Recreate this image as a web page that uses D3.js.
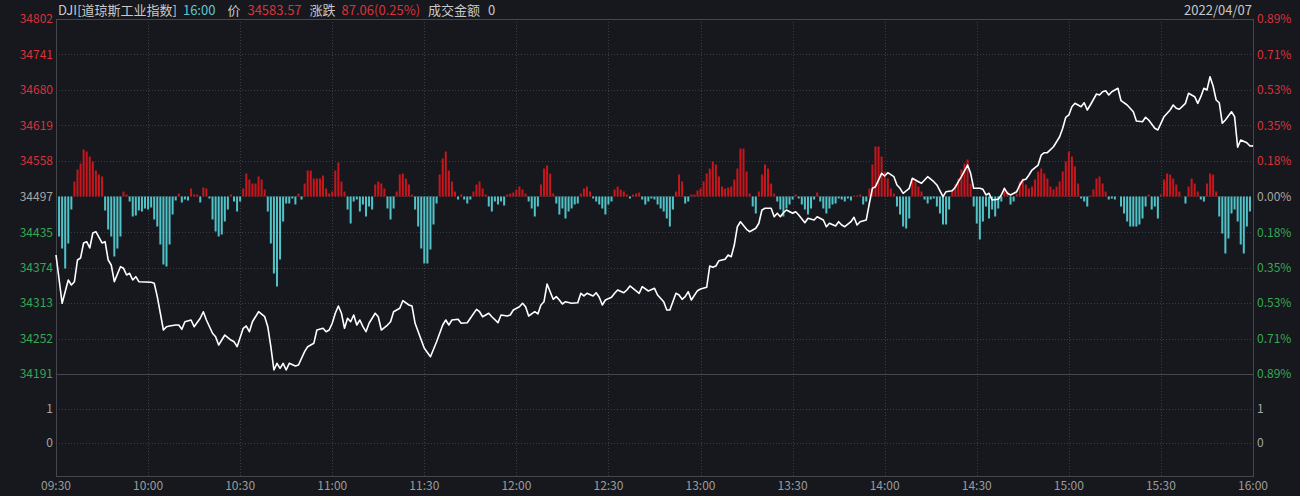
<!DOCTYPE html>
<html><head><meta charset="utf-8">
<script src="https://cdn.jsdelivr.net/npm/d3@7/dist/d3.min.js"></script>
<style>html,body{margin:0;padding:0;background:#16181d;}svg{display:block;}</style>
</head><body><svg id="c" width="1300" height="496"></svg>
<script>
// ---------- data ----------
const prevClose = 34496.51;
const priceTicks = [34802,34741,34680,34619,34558,34497,34435,34374,34313,34252,34191];
const pctTicks = ["0.89%","0.71%","0.53%","0.35%","0.18%","0.00%","0.18%","0.35%","0.53%","0.71%","0.89%"];
const volTicks = [1,0];
const timeTicks = ["09:30","10:00","10:30","11:00","11:30","12:00","12:30","13:00","13:30","14:00","14:30","15:00","15:30","16:00"];
const headerParts = [
  {t:"DJI[道琼斯工业指数]", c:"#c9c9c9"},
  {t:"16:00", c:"#62c6cf"},
  {t:"价", c:"#c9c9c9"},
  {t:"34583.57", c:"#d8333b"},
  {t:"涨跌", c:"#c9c9c9"},
  {t:"87.06(0.25%)", c:"#d8333b"},
  {t:"成交金额", c:"#c9c9c9"},
  {t:"0", c:"#c9c9c9"}
];
const dateLabel = "2022/04/07";

// price line: minute offset from 09:30 and price
const lineMin = [0,2,4,5,6,7,8,9,10,11,12,13,15,16,17,18,19,21,22,23,24,25,26,27,31,32,33,35,36,37,39,40,41,42,44,45,47,48,49,51,52,53,55,57,58,59,61,62,63,64,66,68,69,70,71,72,73,74,75,76,78,79,81,82,84,85,87,88,89,90,91,92,93,94,95,96,97,98,99,100,101,102,104,105,106,108,109,110,112,113,115,116,117,119,120,122,124,126,127,128,129,131,132,134,135,137,138,139,141,142,144,145,147,148,149,151,152,153,154,156,157,158,159,160,161,162,163,164,165,166,168,170,171,172,173,175,176,177,178,179,181,182,183,185,186,187,188,190,191,193,195,196,198,199,200,202,203,204,205,206,207,209,210,212,213,214,215,216,218,219,220,221,222,223,225,226,228,229,230,231,233,234,235,236,237,238,240,241,242,244,245,247,248,250,251,252,254,255,256,257,259,260,261,262,264,265,266,267,269,270,271,273,274,275,276,278,279,281,282,284,286,287,289,290,292,293,294,295,297,298,299,301,302,303,304,305,307,308,309,310,311,313,314,315,316,317,318,320,321,322,323,325,327,328,329,330,331,332,333,334,335,336,337,339,340,341,342,343,344,346,347,349,351,352,354,355,356,358,359,360,361,363,364,365,366,368,369,371,372,373,374,375,376,377,378,379,380,381,383,384,385,386,388,389,390];
const linePrice = [34395.8,34312.7,34352.8,34344.2,34349.9,34387.2,34390.7,34416.5,34418.7,34407.9,34433.7,34435.9,34416.5,34418.7,34387.2,34378.6,34349.9,34375.7,34372.9,34361.4,34364.3,34352.8,34358.5,34349.9,34348.8,34347.1,34324.1,34266.7,34272.4,34273.6,34275.3,34275.3,34267.9,34281.0,34283.9,34272.4,34286.9,34298.2,34283.9,34261.1,34255.2,34240.9,34258.1,34249.5,34246.6,34238.0,34269.7,34273.6,34263.8,34281.0,34298.2,34289.6,34272.4,34238.0,34197.9,34209.4,34200.8,34209.4,34197.9,34209.4,34204.8,34206.5,34229.4,34238.0,34243.8,34266.7,34269.7,34263.8,34266.7,34278.3,34295.5,34308.0,34295.5,34269.7,34286.9,34281.0,34292.6,34275.3,34283.9,34272.4,34263.8,34278.3,34295.5,34289.6,34266.7,34275.3,34281.0,34298.2,34304.1,34317.2,34309.8,34308.0,34278.3,34249.5,34235.2,34220.8,34246.6,34275.3,34283.9,34275.3,34283.9,34285.1,34278.3,34279.3,34286.9,34302.3,34298.2,34289.6,34295.5,34289.6,34279.3,34292.6,34290.8,34292.6,34301.2,34306.8,34312.7,34306.8,34290.8,34298.2,34294.3,34309.8,34315.4,34345.9,34332.6,34319.6,34324.1,34318.4,34311.5,34315.4,34312.7,34313.7,34329.9,34325.3,34329.9,34325.3,34330.9,34323.0,34309.8,34318.4,34323.0,34329.9,34335.6,34330.9,34335.6,34342.5,34338.5,34329.9,34341.3,34333.9,34338.5,34327.0,34315.4,34301.2,34301.2,34329.9,34327.0,34319.6,34324.1,34332.6,34318.4,34334.4,34337.3,34340.2,34376.9,34374.7,34376.9,34386.0,34388.4,34395.8,34392.9,34413.0,34444.5,34453.1,34440.1,34435.9,34441.8,34450.4,34473.3,34476.2,34476.2,34461.7,34467.6,34461.7,34468.6,34473.3,34467.6,34470.3,34464.7,34451.4,34459.0,34456.1,34461.7,34456.1,34444.5,34450.4,34445.7,34453.1,34447.5,34444.5,34453.1,34460.7,34447.5,34453.1,34456.1,34484.8,34510.6,34513.4,34536.4,34531.8,34537.5,34530.6,34516.3,34510.6,34502.0,34510.6,34527.8,34522.0,34519.2,34530.6,34522.0,34516.3,34496.2,34504.8,34506.5,34512.3,34522.0,34530.6,34550.7,34536.4,34510.6,34510.6,34508.9,34499.1,34502.0,34490.5,34491.7,34499.1,34510.6,34502.0,34499.1,34504.8,34516.3,34524.9,34526.1,34533.5,34542.1,34550.7,34567.9,34571.9,34571.9,34582.2,34599.4,34613.9,34632.8,34636.8,34651.1,34656.9,34654.0,34651.1,34657.9,34645.4,34654.0,34672.9,34671.2,34676.9,34678.6,34671.2,34676.9,34682.7,34661.4,34654.0,34642.4,34626.4,34625.2,34632.8,34628.2,34613.9,34611.0,34622.5,34633.9,34645.4,34654.0,34648.3,34646.6,34656.9,34674.1,34668.3,34656.9,34668.3,34682.7,34679.8,34702.7,34686.7,34662.6,34657.9,34622.5,34628.2,34642.4,34633.9,34581.2,34593.7,34589.1,34583.4,34583.57];

// per-minute red/cyan bars (minute 1..390), arbitrary units
const barValues = [
 -40,-52,-72,-47,-13,15,27,33,47,45,
 40,35,26,22,20,-14,-33,-40,-60,-52,
 -40,5,2,-5,-20,-19,-14,-15,-12,-13,
 -11,-23,-30,-48,-68,-70,-48,-18,-4,3,
 -6,-3,-4,8,2,2,-6,9,8,-2,
 -23,-35,-40,-38,-25,-13,2,-5,-15,-5,
 8,23,17,13,13,20,17,7,-15,-47,
 -77,-90,-63,-25,-7,-7,-2,-8,3,-3,
 13,26,26,18,18,18,21,8,3,5,
 26,34,15,5,-13,-27,-5,-3,-15,-8,
 -20,-10,-13,12,15,13,8,-12,-23,-12,
 5,22,23,18,12,2,-13,-30,-52,-67,
 -67,-53,-28,-7,22,38,45,26,15,5,
 -3,2,-3,-7,-3,5,12,15,8,2,
 -10,-15,-5,-8,-5,-9,2,3,4,7,
 10,7,3,-5,-12,-20,-10,12,28,31,
 23,3,-7,-18,-12,-22,-15,-12,-8,-7,
 3,8,10,5,-2,-5,-8,-12,-18,-8,
 -5,7,10,7,5,2,-2,2,3,4,
 -3,-8,-5,-2,-3,-8,-12,-15,-22,-30,
 -13,5,22,15,-7,-5,2,2,6,8,
 15,23,28,35,32,20,10,8,9,10,
 17,28,48,48,25,3,-10,-17,5,22,
 32,28,13,3,-5,-13,-20,-12,-8,-3,
 2,-2,-8,-13,-18,-12,-3,4,-5,-12,
 -17,-12,-8,-7,-2,-3,-5,-2,-4,1,
 1,2,-8,-5,8,32,50,50,40,25,
 18,8,3,-10,-18,-30,-32,-22,17,15,
 10,5,-3,-7,-3,-2,-10,-17,-28,-28,
 -13,7,12,18,27,33,37,13,-10,-27,
 -43,-25,-10,-22,-13,-20,-12,-5,8,5,
 -8,-5,3,15,18,12,8,10,17,25,
 28,23,18,10,7,10,15,25,35,45,
 40,30,13,-2,-5,-10,1,7,18,20,
 13,5,-3,-2,-3,0,-10,-17,-25,-30,
 -30,-30,-28,-22,-10,2,-13,-10,-22,2,
 17,23,22,18,12,5,0,-7,10,18,
 13,5,-3,-5,13,23,22,5,-20,-37,
 -57,-42,-17,-13,-25,-48,-57,-30,-15,0
];

// ---------- layout ----------
const L = 56, R = 1253, T = 19, SEP = 374, B = 476;
const C = {bg:"#16181d", grid:"#3a3d44", border:"#44474e", red:"#d8333b", green:"#35a854", gray:"#a6a6a6",
           barUp:"#c8161c", barDn:"#4fc3c8", axisText:"#9c9c9c"};
const FONT = "'Noto Sans CJK SC','Noto Sans',sans-serif";

const svg = d3.select("#c");
svg.append("rect").attr("width",1300).attr("height",496).attr("fill",C.bg);

const x = d3.scaleLinear().domain([0,390]).range([L,R]);
const y = d3.scaleLinear().domain([priceTicks[priceTicks.length-1], priceTicks[0]]).range([SEP,T]);
const yVol = d3.scaleLinear().domain([0,1]).range([443,409]);
const y0 = y(prevClose);
const yBar = d3.scaleLinear().domain([-100,100]).range([y0+100,y0-100]);

// grid
const g = svg.append("g");
g.selectAll("line.hg").data(priceTicks.slice(1,-1)).enter().append("line")
  .attr("x1",L).attr("x2",R).attr("y1",d=>Math.round(y(d))+0.5).attr("y2",d=>Math.round(y(d))+0.5)
  .attr("stroke",C.grid).attr("stroke-dasharray","1,2");
g.selectAll("line.vg").data(volTicks).enter().append("line")
  .attr("x1",L).attr("x2",R).attr("y1",d=>Math.round(yVol(d))+0.5).attr("y2",d=>Math.round(yVol(d))+0.5)
  .attr("stroke",C.grid).attr("stroke-dasharray","1,2");
g.selectAll("line.tg").data(timeTicks.slice(1,-1)).enter().append("line")
  .attr("x1",(d,i)=>Math.round(x((i+1)*30))+0.5).attr("x2",(d,i)=>Math.round(x((i+1)*30))+0.5)
  .attr("y1",T).attr("y2",B)
  .attr("stroke",C.grid).attr("stroke-dasharray","1,2");

// borders
g.append("rect").attr("x",L+0.5).attr("y",T+0.5).attr("width",R-L).attr("height",B-T)
  .attr("fill","none").attr("stroke",C.border);
g.append("line").attr("x1",L).attr("x2",R).attr("y1",Math.round(y(priceTicks[priceTicks.length-1]))+0.5)
  .attr("y2",Math.round(y(priceTicks[priceTicks.length-1]))+0.5).attr("stroke",C.border);

// bars
svg.append("g").selectAll("rect").data(barValues).enter().append("rect")
  .attr("x",(d,i)=>x(i+1)-1).attr("width",2)
  .attr("y",d=>d>=0?yBar(d):y0).attr("height",d=>Math.abs(yBar(d)-y0))
  .attr("fill",d=>d>=0?C.barUp:C.barDn);

// price line
const pts = lineMin.map((m,i)=>[m,linePrice[i]]);
svg.append("path").datum(pts)
  .attr("d",d3.line().x(d=>x(d[0])).y(d=>y(d[1])))
  .attr("fill","none").attr("stroke","#ffffff").attr("stroke-width",1.6).attr("stroke-linejoin","round");

// left axis
const ax = svg.append("g").attr("font-family",FONT).attr("font-size",12);
const mid = (priceTicks.length-1)/2;
ax.selectAll("text.lp").data(priceTicks).enter().append("text")
  .attr("x",53).attr("y",d=>y(d)).attr("dy","0.36em").attr("text-anchor","end")
  .attr("fill",(d,i)=>i<mid?C.red:(i===mid?C.gray:C.green)).text(d=>d);
ax.selectAll("text.rp").data(pctTicks).enter().append("text")
  .attr("x",1257).attr("y",(d,i)=>y(priceTicks[i])).attr("dy","0.36em").attr("text-anchor","start")
  .attr("fill",(d,i)=>i<mid?C.red:(i===mid?C.gray:C.green)).text(d=>d);
ax.selectAll("text.lv").data(volTicks).enter().append("text")
  .attr("x",53).attr("y",d=>yVol(d)).attr("dy","0.36em").attr("text-anchor","end").attr("fill",C.gray).text(d=>d);
ax.selectAll("text.rv").data(volTicks).enter().append("text")
  .attr("x",1257).attr("y",d=>yVol(d)).attr("dy","0.36em").attr("text-anchor","start").attr("fill",C.gray).text(d=>d);
ax.selectAll("text.t").data(timeTicks).enter().append("text")
  .attr("x",(d,i)=>x(i*30)).attr("y",490).attr("text-anchor","middle").attr("fill",C.axisText).text(d=>d);

// header
const hd = svg.append("g").attr("font-family",FONT).attr("font-size",13);
let hx = 58;
const gaps = [6,12,7,8,6,8,8,0];
headerParts.forEach((p,i)=>{
  const t = hd.append("text").attr("x",hx).attr("y",15).attr("fill",p.c).text(p.t);
  hx += t.node().getComputedTextLength() + gaps[i];
});
hd.append("text").attr("x",1252).attr("y",15).attr("text-anchor","end").attr("fill","#c9c9c9").text(dateLabel);
</script></body></html>
